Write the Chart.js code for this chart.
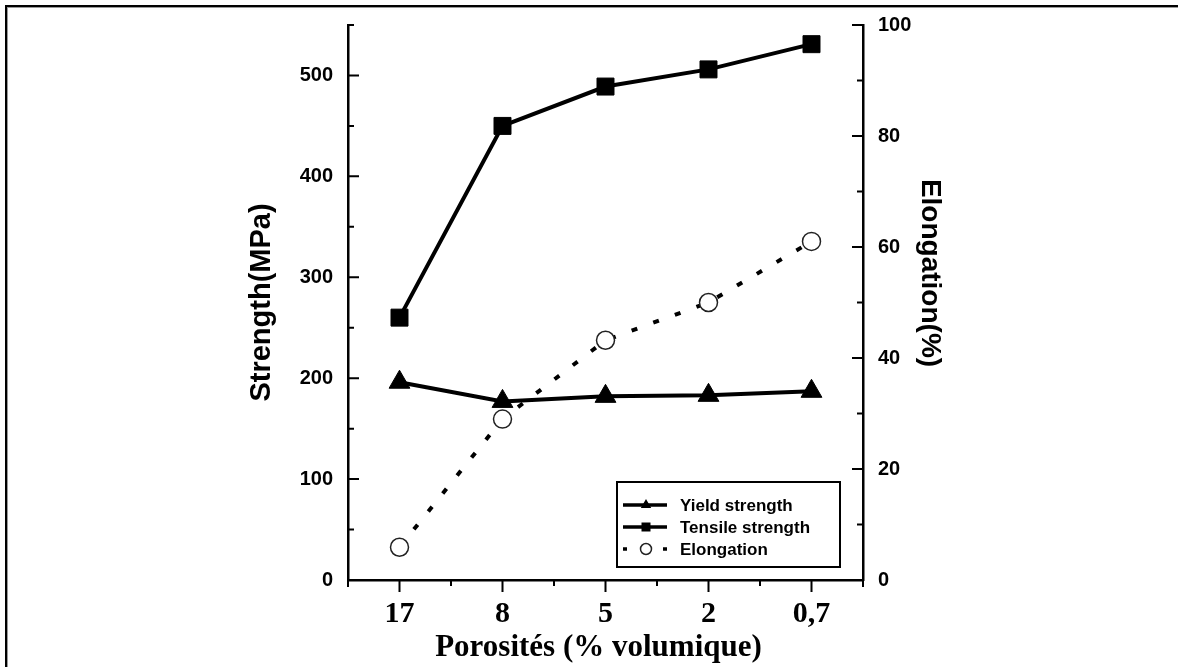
<!DOCTYPE html>
<html>
<head>
<meta charset="utf-8">
<script src="https://cdn.jsdelivr.net/npm/chart.js@4/dist/chart.umd.min.js"></script>
<style>
  html, body { margin: 0; padding: 0; background: #fff; }
  #wrap { position: relative; width: 1178px; height: 667px; overflow: hidden; }
  #frame { position: absolute; left: 5px; top: 5px; width: 1400px; height: 900px;
           border-top: 2px solid #000; border-left: 2px solid #000; box-shadow: inset 1px 1px 0 #999; }
  #chart { position: absolute; left: 0; top: 0; }
</style>
</head>
<body>
<div id="wrap">
  <div id="frame"></div>
  <canvas id="chart" width="1178" height="667"></canvas>
</div>
<script>
// ---- données ----
const porosites = ['17', '8', '5', '2', '0,7']
const yieldStrength = [196, 177, 182, 183, 187]     // MPa
const tensileStrength = [260, 450, 489, 506, 531]   // MPa
const elongation = [5.9, 29, 43.2, 50, 61]          // %

const SANS = '"Liberation Sans", Arial, sans-serif'
const SERIF = '"Liberation Serif", "Times New Roman", serif'

// petits traits d'axes (majeurs/mineurs), vers l'intérieur pour Y, vers le bas pour X
const axisTicks = {
  id: 'axisTicks',
  afterDraw(chart) {
    const { ctx, chartArea: a, scales } = chart
    ctx.save()
    ctx.strokeStyle = '#000'
    ctx.lineWidth = 2
    ctx.beginPath()
    scales.y.ticks.forEach(t => {
      const y = scales.y.getPixelForValue(t.value)
      const len = t.value % 100 === 0 ? 11 : 6
      ctx.moveTo(a.left, y); ctx.lineTo(a.left + len, y)
    })
    scales.y1.ticks.forEach(t => {
      const y = scales.y1.getPixelForValue(t.value)
      const len = t.value % 20 === 0 ? 11 : 6
      ctx.moveTo(a.right, y); ctx.lineTo(a.right - len, y)
    })
    const xs = porosites.map((_, i) => scales.x.getPixelForValue(i))
    xs.forEach(x => { ctx.moveTo(x, a.bottom); ctx.lineTo(x, a.bottom + 12) })
    for (let i = 0; i < xs.length - 1; i++) {
      const m = (xs[i] + xs[i + 1]) / 2
      ctx.moveTo(m, a.bottom); ctx.lineTo(m, a.bottom + 6)
    }
    ctx.moveTo(a.left, a.bottom); ctx.lineTo(a.left, a.bottom + 7)
    ctx.moveTo(a.right, a.bottom); ctx.lineTo(a.right, a.bottom + 7)
    ctx.stroke()
    ctx.restore()
  },
}

// titres des axes
const axisTitles = {
  id: 'axisTitles',
  afterDraw(chart) {
    const { ctx, chartArea: a } = chart
    ctx.save()
    ctx.fillStyle = '#000'
    ctx.textAlign = 'center'
    ctx.textBaseline = 'middle'
    ctx.font = 'bold 29px ' + SANS
    ctx.save()
    ctx.translate(a.left - 86, (a.top + a.bottom) / 2)
    ctx.rotate(-Math.PI / 2)
    ctx.fillText('Strength(MPa)', 0, 0)
    ctx.restore()
    ctx.font = 'bold 28px ' + SANS
    ctx.save()
    ctx.translate(a.right + 67, a.top + 248)
    ctx.rotate(Math.PI / 2)
    ctx.fillText('Elongation(%)', 0, 0)
    ctx.restore()
    ctx.font = 'bold 31px ' + SERIF
    ctx.fillText('Porosités (% volumique)', (a.left + a.right) / 2 - 7, a.bottom + 68)
    ctx.restore()
  },
}

function marker(ctx, style, x, y, r) {
  ctx.beginPath()
  if (style === 'triangle') {
    ctx.moveTo(x, y - r); ctx.lineTo(x + r * 0.866, y + r / 2); ctx.lineTo(x - r * 0.866, y + r / 2)
    ctx.closePath(); ctx.fillStyle = '#000'; ctx.fill()
  } else if (style === 'rect') {
    ctx.rect(x - r, y - r, 2 * r, 2 * r); ctx.fillStyle = '#000'; ctx.fill()
  } else {
    ctx.arc(x, y, r, 0, Math.PI * 2); ctx.fillStyle = '#fff'; ctx.fill()
    ctx.lineWidth = 1.5; ctx.strokeStyle = '#222'; ctx.stroke()
  }
}

// légende encadrée, en bas à droite du graphique
const boxLegend = {
  id: 'boxLegend',
  afterDraw(chart) {
    const { ctx, chartArea: a } = chart
    const right = a.right - 23, bottom = a.bottom - 13
    const left = right - 223, top = bottom - 85
    ctx.save()
    ctx.fillStyle = '#fff'
    ctx.fillRect(left, top, right - left, bottom - top)
    ctx.strokeStyle = '#000'
    ctx.lineWidth = 2
    ctx.strokeRect(left, top, right - left, bottom - top)
    ctx.font = 'bold 17px ' + SANS
    ctx.textBaseline = 'middle'
    const items = [
      { text: 'Yield strength', style: 'triangle', r: 6, dash: [] },
      { text: 'Tensile strength', style: 'rect', r: 4.5, dash: [] },
      { text: 'Elongation', style: 'circle', r: 5.5, dash: [4, 16] },
    ]
    items.forEach((it, i) => {
      const y = top + 23 + i * 22
      ctx.strokeStyle = '#000'
      ctx.lineWidth = 3.5
      ctx.setLineDash(it.dash)
      ctx.beginPath(); ctx.moveTo(left + 6, y); ctx.lineTo(left + 50, y); ctx.stroke()
      ctx.setLineDash([])
      marker(ctx, it.style, left + 29, y, it.r)
      ctx.fillStyle = '#000'
      ctx.fillText(it.text, left + 63, y + 1)
    })
    ctx.restore()
  },
}

new Chart(document.getElementById('chart'), {
  type: 'line',
  data: {
    labels: porosites,
    datasets: [
      { label: 'Yield strength', data: yieldStrength, yAxisID: 'y',
        borderColor: '#000', borderWidth: 4, tension: 0,
        pointStyle: 'triangle', pointRadius: 12, pointBackgroundColor: '#000', pointBorderColor: '#000', pointBorderWidth: 1 },
      { label: 'Tensile strength', data: tensileStrength, yAxisID: 'y',
        borderColor: '#000', borderWidth: 4, tension: 0,
        pointStyle: 'rect', pointRadius: 12, pointBackgroundColor: '#000', pointBorderColor: '#000', pointBorderWidth: 1 },
      { label: 'Elongation', data: elongation, yAxisID: 'y1',
        borderColor: '#000', borderWidth: 4, borderDash: [6, 17], borderCapStyle: 'butt', tension: 0,
        pointStyle: 'circle', pointRadius: 9, pointBackgroundColor: '#fff', pointBorderColor: '#222', pointBorderWidth: 1.5 },
    ],
  },
  options: {
    responsive: false,
    animation: false,
    layout: { padding: { top: 25, left: 0, right: 0, bottom: 0 } },
    plugins: { legend: { display: false }, tooltip: { enabled: false } },
    scales: {
      x: {
        offset: true,
        grid: { display: false },
        border: { color: '#000', width: 2.5 },
        ticks: { color: '#000', padding: 8, font: { family: SERIF, size: 30, weight: 'bold' } },
        afterFit: s => { s.height = 87 },
      },
      y: {
        position: 'left', min: 0, max: 550,
        grid: { display: false },
        border: { color: '#000', width: 2.5 },
        ticks: { stepSize: 50, autoSkip: false, padding: 7, color: '#000',
          font: { family: SANS, size: 20, weight: 'bold' },
          callback: v => (v % 100 === 0 ? v : '') },
        afterFit: s => { s.width = 348 },
      },
      y1: {
        position: 'right', min: 0, max: 100,
        grid: { display: false },
        border: { color: '#000', width: 2.5 },
        ticks: { stepSize: 10, autoSkip: false, padding: 7, color: '#000',
          font: { family: SANS, size: 20, weight: 'bold' },
          callback: v => (v % 20 === 0 ? v : '') },
        afterFit: s => { s.width = 315 },
      },
    },
  },
  plugins: [axisTicks, axisTitles, boxLegend],
})
</script>
</body>
</html>
